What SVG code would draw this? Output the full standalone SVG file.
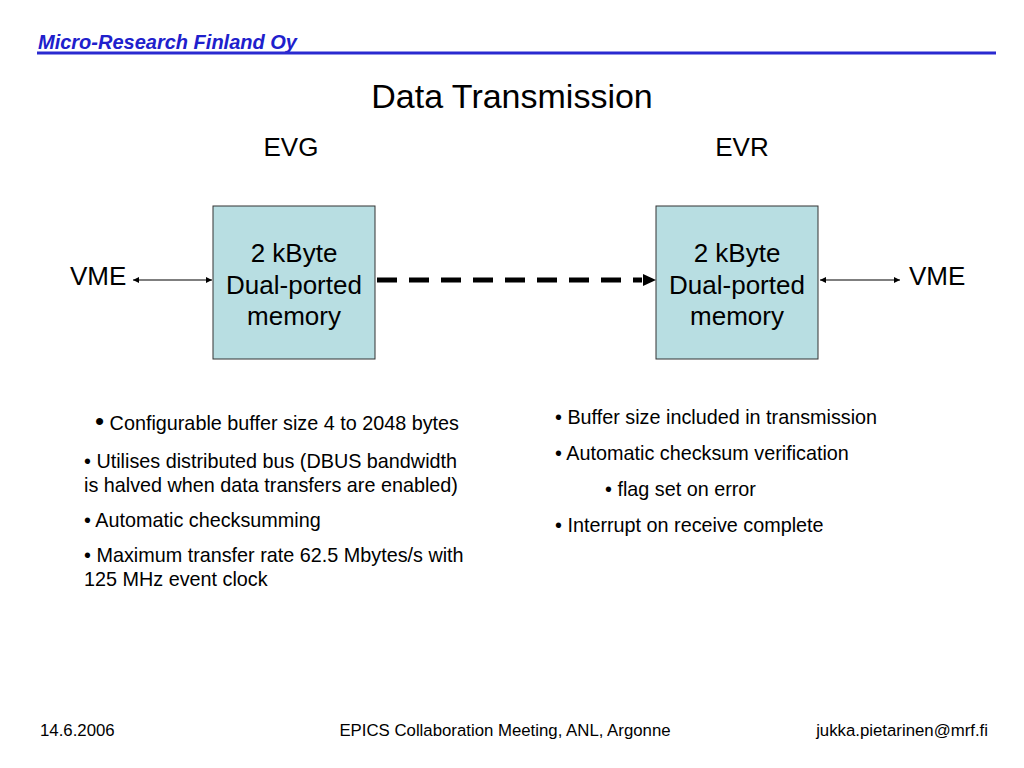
<svg xmlns="http://www.w3.org/2000/svg" width="1024" height="768" viewBox="0 0 1024 768">
<style>
text{font-family:"Liberation Sans",Arial,sans-serif;fill:#000}
.box{fill:#b8dee2;stroke:#333;stroke-width:1}
.lbl{font-size:26px;text-anchor:middle}
.bul{font-size:19.8px}
.foot{font-size:16.8px}
.thin{stroke:#000;stroke-width:1.2;fill:none}
</style>
<defs>
<marker id="ah" viewBox="0 0 10 10" refX="10" refY="5" markerWidth="8" markerHeight="6" markerUnits="userSpaceOnUse" orient="auto-start-reverse">
<path d="M0,0 L10,5 L0,10 z" fill="#000"/>
</marker>
</defs>
<rect width="1024" height="768" fill="#fff"/>
<g id="header">
<text x="38" y="49" style="font-size:20px;font-weight:bold;font-style:italic;fill:#2020cc">Micro-Research Finland Oy</text>
<line x1="37" y1="53" x2="996" y2="53" stroke="#2a2ad0" stroke-width="3"/>
</g>
<text x="512" y="108" style="font-size:34px;text-anchor:middle">Data Transmission</text>
<text x="291" y="156" class="lbl">EVG</text>
<text x="742" y="156" class="lbl">EVR</text>
<g id="evg">
<rect class="box" x="213" y="206" width="162" height="153"/>
<text class="lbl" x="294" y="262">2 kByte</text>
<text class="lbl" x="294" y="294">Dual-ported</text>
<text class="lbl" x="294" y="325">memory</text>
</g>
<g id="evr">
<rect class="box" x="656" y="206" width="162" height="153"/>
<text class="lbl" x="737" y="262">2 kByte</text>
<text class="lbl" x="737" y="294">Dual-ported</text>
<text class="lbl" x="737" y="325">memory</text>
</g>
<g id="vme-left"><text x="70" y="285" style="font-size:26px">VME</text></g>
<g id="vme-right"><text x="909" y="285" style="font-size:26px">VME</text></g>
<g id="connectors">
<line class="thin" x1="133" y1="280" x2="212" y2="280" marker-start="url(#ah)" marker-end="url(#ah)"/>
<line class="thin" x1="820" y1="280" x2="900" y2="280" marker-start="url(#ah)" marker-end="url(#ah)"/>
<line x1="377" y1="280" x2="642" y2="280" stroke="#000" stroke-width="5" stroke-dasharray="20,12"/>
<path d="M643,274 L656,280 L643,286 z" fill="#000"/>
</g>
<g id="evg-notes">
<text x="95" y="430" class="bul"><tspan style="font-size:26px">•</tspan> Configurable buffer size 4 to 2048 bytes</text>
<text x="84" y="468" class="bul">• Utilises distributed bus (DBUS bandwidth</text>
<text x="84" y="492" class="bul">is halved when data transfers are enabled)</text>
<text x="84" y="527" class="bul">• Automatic checksumming</text>
<text x="84" y="562" class="bul">• Maximum transfer rate 62.5 Mbytes/s with</text>
<text x="84" y="586" class="bul">125 MHz event clock</text>
</g>
<g id="evr-notes">
<text x="555" y="424" class="bul">• Buffer size included in transmission</text>
<text x="555" y="460" class="bul">• Automatic checksum verification</text>
<text x="605" y="496" class="bul">• flag set on error</text>
<text x="555" y="532" class="bul">• Interrupt on receive complete</text>
</g>
<g id="footer">
<text x="40" y="736" class="foot">14.6.2006</text>
<text x="505" y="736" class="foot" text-anchor="middle">EPICS Collaboration Meeting, ANL, Argonne</text>
<text x="988" y="736" class="foot" text-anchor="end">jukka.pietarinen@mrf.fi</text>
</g>
</svg>
